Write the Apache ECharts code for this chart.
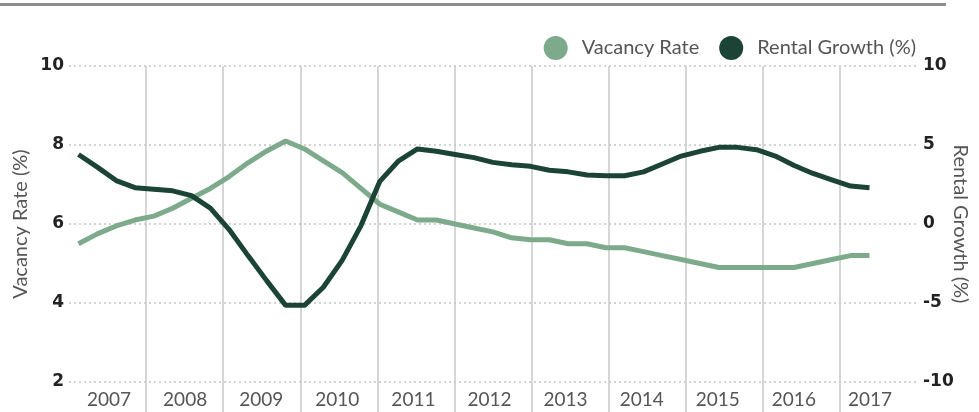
<!DOCTYPE html>
<html>
<head>
<meta charset="utf-8">
<script src="https://cdn.jsdelivr.net/npm/echarts@6/dist/echarts.min.js"></script>
<style>
html, body { margin: 0; padding: 0; background: #fff; }
#main { width: 979px; height: 412px; }
</style>
</head>
<body>
<div id="main"></div>
<script>
// year labels on the axis
var years = ['2007', '2008', '2009', '2010', '2011', '2012', '2013', '2014', '2015', '2016', '2017'];
// quarterly points, 2007 Q1 .. 2017 Q3
var quarters = [];
years.forEach(function (y) {
    ['Q1', 'Q2', 'Q3', 'Q4'].forEach(function (q) { quarters.push(y + ' ' + q); });
});
quarters = quarters.slice(0, 43);

// left axis ticks (%), right axis ticks (%)
var vacancyTicks = [2, 4, 6, 8, 10];
var growthTicks = [-10, -5, 0, 5, 10];

var vacancyRate = [5.5, 5.75, 5.95, 6.1, 6.2, 6.4, 6.65, 6.9, 7.2, 7.55, 7.85, 8.1, 7.9, 7.6, 7.3,
    6.9, 6.5, 6.3, 6.1, 6.1, 6.0, 5.9, 5.8, 5.65, 5.6, 5.6, 5.5, 5.5, 5.4, 5.4, 5.3, 5.2, 5.1,
    5.0, 4.9, 4.9, 4.9, 4.9, 4.9, 5.0, 5.1, 5.2, 5.2];
var rentalGrowth = [4.4, 3.6, 2.75, 2.3, 2.2, 2.1, 1.8, 1.0, -0.35, -2.0, -3.6, -5.15, -5.15, -4.0, -2.3,
    -0.1, 2.7, 4.0, 4.75, 4.6, 4.4, 4.2, 3.9, 3.75, 3.65, 3.4, 3.3, 3.1, 3.05, 3.05, 3.3, 3.8, 4.3,
    4.6, 4.85, 4.85, 4.7, 4.3, 3.7, 3.2, 2.8, 2.4, 2.3];

var lightGreen = '#7daa8b';
var darkGreen = '#1b4436';

var myChart = echarts.init(document.getElementById('main'));
var option = {
    backgroundColor: '#fff',
    graphic: [{
        type: 'rect',
        shape: { x: 0, y: 3, width: 946, height: 3 },
        style: { fill: '#8c8c8c' }
    }],
    legend: {
        top: 31,
        right: 58,
        icon: 'circle',
        itemWidth: 24,
        itemHeight: 24,
        itemGap: 20,
        textStyle: { fontFamily: 'Lato', fontSize: 20, color: '#555', padding: [0, 0, 0, 9] },
        data: ['Vacancy Rate', 'Rental Growth (%)']
    },
    grid: [
        // main axes
        { left: 69, right: 62, top: 66, bottom: 30, outerBoundsMode: 'none' },
        // year separators running down through the labels
        { left: 69, right: 62, top: 66, bottom: 0, outerBoundsMode: 'none' },
        // quarterly series
        { left: 78.5, right: 109.5, top: 66, bottom: 30, outerBoundsMode: 'none' },
        // year labels (set a little tighter than the separators)
        { left: 71, right: 71, top: 66, bottom: 30, outerBoundsMode: 'none' }
    ],
    xAxis: [{
        type: 'category',
        gridIndex: 0,
        data: years,
        boundaryGap: true,
        show: false
    }, {
        type: 'category',
        gridIndex: 1,
        data: years,
        boundaryGap: true,
        axisLine: { show: false },
        axisTick: { show: false },
        axisLabel: { show: false },
        splitLine: {
            show: true, showMinLine: false, showMaxLine: false,
            lineStyle: { color: '#c9c9c9', width: 1.5 }
        }
    }, {
        type: 'category',
        gridIndex: 2,
        data: quarters,
        boundaryGap: false,
        show: false
    }, {
        type: 'category',
        gridIndex: 3,
        data: years,
        boundaryGap: true,
        axisLine: { show: false },
        axisTick: { show: false },
        splitLine: { show: false },
        axisLabel: { margin: 8, fontFamily: 'Lato', fontSize: 19, color: '#555' }
    }],
    yAxis: [{
        type: 'value',
        gridIndex: 0,
        min: vacancyTicks[0],
        max: vacancyTicks[vacancyTicks.length - 1],
        interval: 2,
        name: 'Vacancy Rate (%)',
        nameLocation: 'middle',
        nameGap: 38,
        nameMoveOverlap: false,
        nameTextStyle: { fontFamily: 'Lato', fontSize: 20, color: '#555' },
        axisLine: { show: false },
        axisTick: { show: false },
        axisLabel: { margin: 5, fontFamily: 'DejaVu Sans', fontWeight: 'bold', fontSize: 17, color: '#222' },
        splitLine: { lineStyle: { color: '#c4c4c4', width: 1.5, type: [2, 3] } }
    }, {
        type: 'value',
        gridIndex: 0,
        position: 'right',
        min: growthTicks[0],
        max: growthTicks[growthTicks.length - 1],
        interval: 5,
        name: 'Rental Growth (%)',
        nameLocation: 'middle',
        nameGap: 33,
        nameRotate: -90,
        nameMoveOverlap: false,
        nameTextStyle: { fontFamily: 'Lato', fontSize: 20, color: '#555' },
        axisLine: { show: false },
        axisTick: { show: false },
        axisLabel: { margin: 6, fontFamily: 'DejaVu Sans', fontWeight: 'bold', fontSize: 17, color: '#222' },
        splitLine: { show: false }
    }, {
        type: 'value', gridIndex: 1, show: false
    }, {
        type: 'value', gridIndex: 2, show: false,
        min: vacancyTicks[0], max: vacancyTicks[vacancyTicks.length - 1]
    }, {
        type: 'value', gridIndex: 2, show: false,
        min: growthTicks[0], max: growthTicks[growthTicks.length - 1]
    }, {
        type: 'value', gridIndex: 3, show: false
    }],
    series: [{
        name: 'Vacancy Rate',
        type: 'line',
        xAxisIndex: 2,
        yAxisIndex: 3,
        data: vacancyRate,
        symbol: 'none',
        itemStyle: { color: lightGreen },
        lineStyle: { color: lightGreen, width: 5 },
        z: 3
    }, {
        name: 'Rental Growth (%)',
        type: 'line',
        xAxisIndex: 2,
        yAxisIndex: 4,
        data: rentalGrowth,
        symbol: 'none',
        itemStyle: { color: darkGreen },
        lineStyle: { color: darkGreen, width: 5 },
        z: 4
    }]
};
myChart.setOption(option);
</script>
</body>
</html>
